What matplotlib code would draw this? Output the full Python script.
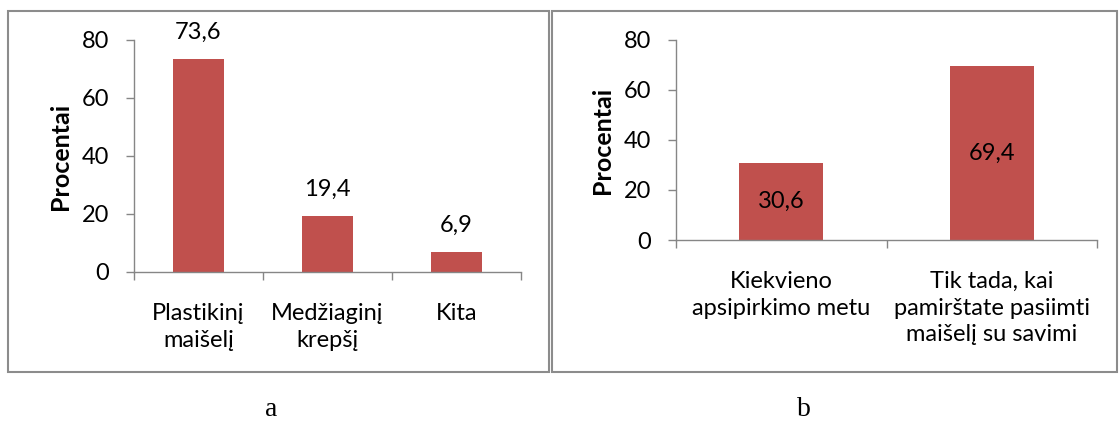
import matplotlib
matplotlib.use("Agg")
import matplotlib.pyplot as plt
from matplotlib.patches import Rectangle

# Data
cats_a = ["Plastikinį\nmaišelį", "Medžiaginį\nkrepšį", "Kita"]
vals_a = [73.6, 19.4, 6.9]
labels_a = ["73,6", "19,4", "6,9"]

cats_b = ["Kiekvieno\napsipirkimo metu", "Tik tada, kai\npamirštate pasiimti\nmaišelį su savimi"]
vals_b = [30.6, 69.4]
labels_b = ["30,6", "69,4"]

yticks = [0, 20, 40, 60, 80]
ylabel = "Procentai"

W, H = 1119, 423
BAR = "#C0504D"
AXC = "#868686"
FONT = "Lato"
FS = 17

plt.rcParams["font.family"] = [FONT, "DejaVu Sans"]

fig = plt.figure(figsize=(W / 100, H / 100), dpi=100)


def px_axes(x0, x1, ytop, ybot):
    return fig.add_axes([x0 / W, (H - ybot) / H, (x1 - x0) / W, (ybot - ytop) / H])


def frame(x0, x1, ytop, ybot):
    fig.patches.append(Rectangle((x0 / W, (H - ybot) / H), (x1 - x0) / W, (ybot - ytop) / H,
                                 transform=fig.transFigure, fill=False,
                                 edgecolor="#8c8c8c", linewidth=1.5))


def style(ax, n, cats):
    ax.set_xlim(-0.5, n - 0.5)
    ax.set_ylim(0, 80)
    ax.set_yticks(yticks)
    ax.set_yticklabels([str(t) for t in yticks], fontsize=FS)
    ax.set_xticks(range(n))
    ax.set_xticklabels(cats, fontsize=FS, linespacing=1.35)
    ax.set_xticks([i - 0.5 for i in range(n + 1)], minor=True)
    ax.tick_params(axis="x", which="major", length=0, pad=22)
    ax.tick_params(axis="x", which="minor", length=6, color=AXC, width=1)
    ax.tick_params(axis="y", length=6, color=AXC, width=1, pad=12)
    for s in ("top", "right"):
        ax.spines[s].set_visible(False)
    for s in ("left", "bottom"):
        ax.spines[s].set_color(AXC)
        ax.spines[s].set_linewidth(1)
    ax.set_ylabel(ylabel, fontsize=18, fontweight="bold", labelpad=7)
    ax.patch.set_alpha(0)


# Panel frames
frame(8, 549, 11, 372)
frame(552, 1117, 11, 372)

# Panel a
ax1 = px_axes(134, 521, 40, 272)
xa = list(range(len(vals_a)))
ax1.bar(xa, vals_a, width=0.4, color=BAR)
style(ax1, len(vals_a), cats_a)
for x, v, t in zip(xa, vals_a, labels_a):
    ax1.annotate(t, (x, v), xytext=(0, 19), textcoords="offset points",
                 ha="center", va="center", fontsize=FS)

# Panel b
ax2 = px_axes(676, 1097, 40, 240)
xb = list(range(len(vals_b)))
ax2.bar(xb, vals_b, width=0.4, color=BAR)
style(ax2, len(vals_b), cats_b)
for x, v, t in zip(xb, vals_b, labels_b):
    ax2.text(x, v / 2, t, ha="center", va="center", fontsize=FS)

# Captions
fig.text(271 / W, (H - 409) / H, "a", family="Liberation Serif", fontsize=20,
         ha="center", va="center")
fig.text(804 / W, (H - 409) / H, "b", family="Liberation Serif", fontsize=20,
         ha="center", va="center")

fig.savefig("out.png", dpi=100)
